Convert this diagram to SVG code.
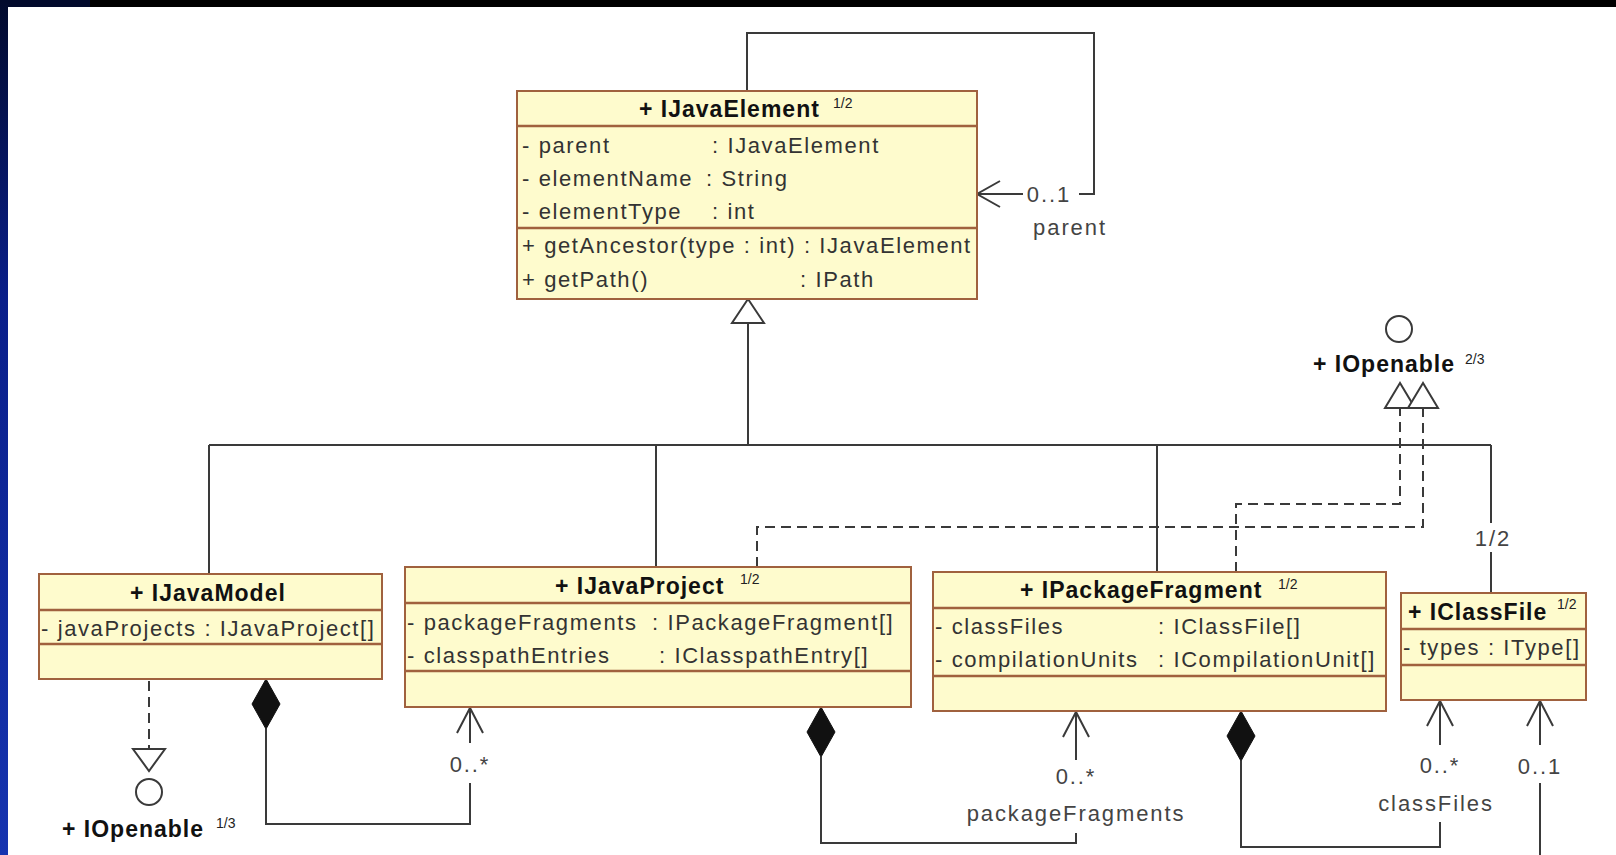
<svg xmlns="http://www.w3.org/2000/svg" width="1616" height="855" viewBox="0 0 1616 855">
  <defs>
    <linearGradient id="edge" x1="0" y1="0" x2="0" y2="1">
      <stop offset="0" stop-color="#020a2c"/>
      <stop offset="0.35" stop-color="#0a1f8a"/>
      <stop offset="1" stop-color="#1634b0"/>
    </linearGradient>
    <style>
      .box { fill: #fefbcd; stroke: #a0613e; stroke-width: 2; }
      .sep { stroke: #a0613e; stroke-width: 2.5; }
      .title { font-family: "Liberation Sans", Arial, sans-serif; font-size: 23px; font-weight: bold; letter-spacing: 1px; fill: #111; }
      .sup { font-family: "Liberation Sans", Arial, sans-serif; font-size: 14px; fill: #222; }
      .attr { font-family: "Liberation Sans", Arial, sans-serif; font-size: 22px; letter-spacing: 1.6px; fill: #333; }
      .lbl { font-family: "Liberation Sans", Arial, sans-serif; font-size: 22px; letter-spacing: 1.9px; fill: #444; text-anchor: middle; }
      .line { stroke: #3a3a3a; stroke-width: 2; fill: none; }
      .dash { stroke-dasharray: 10 6; }
      .hollow { fill: #fff; stroke: #3a3a3a; stroke-width: 2; }
      .solid { fill: #111; stroke: #111; stroke-width: 1; }
      .iface { fill: #fff; stroke: #3a3a3a; stroke-width: 2; }
    </style>
  </defs>

  <!-- page frame -->
  <rect x="0" y="0" width="1616" height="855" fill="#ffffff"/>
  <rect x="0" y="0" width="1616" height="7" fill="#000"/>
  <rect x="0" y="0" width="90" height="7" fill="#020a2c"/>
  <rect x="0" y="0" width="8" height="855" fill="url(#edge)"/>

  <!-- connectors -->
  <g id="connectors">
    <!-- parent self association -->
    <polyline class="line" points="747,91 747,33 1094,33 1094,194 1079,194"/>
    <line class="line" x1="977" y1="194" x2="1023" y2="194"/>
    <polyline class="line" points="1000,181 977,194 1000,207"/>
    <text class="lbl" x="1049" y="202">0..1</text>
    <text class="lbl" x="1070" y="235">parent</text>

    <!-- generalization tree -->
    <polygon class="hollow" points="748,299 732,323 764,323"/>
    <line class="line" x1="748" y1="323" x2="748" y2="445"/>
    <line class="line" x1="209" y1="445" x2="1491" y2="445"/>
    <line class="line" x1="209" y1="445" x2="209" y2="574"/>
    <line class="line" x1="656" y1="445" x2="656" y2="567"/>
    <line class="line" x1="1157" y1="445" x2="1157" y2="572"/>
    <line class="line" x1="1491" y1="445" x2="1491" y2="523"/>
    <line class="line" x1="1491" y1="552" x2="1491" y2="593"/>
    <text class="lbl" x="1493" y="546">1/2</text>

    <!-- realizations of IOpenable (top right) -->
    <polyline class="line dash" points="757,567 757,527 1423,527 1423,408"/>
    <polyline class="line dash" points="1236,572 1236,504 1400,504 1400,408"/>
    <polygon class="hollow" points="1400,383 1385,408 1415,408"/>
    <polygon class="hollow" points="1423,383 1408,408 1438,408"/>

    <!-- realization of IOpenable (bottom left) -->
    <line class="line dash" x1="149" y1="681" x2="149" y2="749"/>
    <polygon class="hollow" points="133,749 165,749 149,771"/>

    <!-- IJavaModel to IJavaProject -->
    <polygon class="solid" points="266,679 280,704 266,729 252,704"/>
    <polyline class="line" points="266,729 266,824 470,824 470,783"/>
    <line class="line" x1="470" y1="743" x2="470" y2="708"/>
    <polyline class="line" points="457,733 470,708 483,733"/>
    <text class="lbl" x="470" y="772">0..*</text>

    <!-- IJavaProject to IPackageFragment -->
    <polygon class="solid" points="821,707 835,732 821,757 807,732"/>
    <polyline class="line" points="821,757 821,843 1076,843 1076,833"/>
    <line class="line" x1="1076" y1="760" x2="1076" y2="712"/>
    <polyline class="line" points="1063,737 1076,712 1089,737"/>
    <text class="lbl" x="1076" y="784">0..*</text>
    <text class="lbl" x="1076" y="821">packageFragments</text>

    <!-- IPackageFragment to IClassFile -->
    <polygon class="solid" points="1241,711 1255,736 1241,761 1227,736"/>
    <polyline class="line" points="1241,761 1241,847 1440,847 1440,822"/>
    <line class="line" x1="1440" y1="745" x2="1440" y2="701"/>
    <polyline class="line" points="1427,726 1440,701 1453,726"/>
    <text class="lbl" x="1440" y="773">0..*</text>
    <text class="lbl" x="1436" y="811">classFiles</text>

    <!-- IClassFile 0..1 association -->
    <line class="line" x1="1540" y1="745" x2="1540" y2="701"/>
    <polyline class="line" points="1527,726 1540,701 1553,726"/>
    <line class="line" x1="1540" y1="783" x2="1540" y2="855"/>
    <text class="lbl" x="1540" y="774">0..1</text>
  </g>

  <!-- IJavaElement -->
  <g id="IJavaElement">
    <rect class="box" x="517" y="91" width="460" height="208"/>
    <line class="sep" x1="517" y1="126" x2="977" y2="126"/>
    <line class="sep" x1="517" y1="228" x2="977" y2="228"/>
    <text class="title" x="639" y="117">+ IJavaElement</text>
    <text class="sup" x="833" y="108">1/2</text>
    <text class="attr" x="522" y="153">- parent</text>
    <text class="attr" x="712" y="153">: IJavaElement</text>
    <text class="attr" x="522" y="186">- elementName</text>
    <text class="attr" x="706" y="186">: String</text>
    <text class="attr" x="522" y="219">- elementType</text>
    <text class="attr" x="712" y="219">: int</text>
    <text class="attr" x="522" y="253">+ getAncestor(type : int) : IJavaElement</text>
    <text class="attr" x="522" y="287">+ getPath()</text>
    <text class="attr" x="800" y="287">: IPath</text>
  </g>

  <!-- IJavaModel -->
  <g id="IJavaModel">
    <rect class="box" x="39" y="574" width="343" height="105"/>
    <line class="sep" x1="39" y1="610" x2="382" y2="610"/>
    <line class="sep" x1="39" y1="644" x2="382" y2="644"/>
    <text class="title" x="130" y="601">+ IJavaModel</text>
    <text class="attr" x="41" y="636">- javaProjects : IJavaProject[]</text>
  </g>

  <!-- IJavaProject -->
  <g id="IJavaProject">
    <rect class="box" x="405" y="567" width="506" height="140"/>
    <line class="sep" x1="405" y1="603" x2="911" y2="603"/>
    <line class="sep" x1="405" y1="671" x2="911" y2="671"/>
    <text class="title" x="555" y="594">+ IJavaProject</text>
    <text class="sup" x="740" y="584">1/2</text>
    <text class="attr" x="407" y="630">- packageFragments</text>
    <text class="attr" x="652" y="630">: IPackageFragment[]</text>
    <text class="attr" x="407" y="663">- classpathEntries</text>
    <text class="attr" x="659" y="663">: IClasspathEntry[]</text>
  </g>

  <!-- IPackageFragment -->
  <g id="IPackageFragment">
    <rect class="box" x="933" y="572" width="453" height="139"/>
    <line class="sep" x1="933" y1="608" x2="1386" y2="608"/>
    <line class="sep" x1="933" y1="676" x2="1386" y2="676"/>
    <text class="title" x="1020" y="598">+ IPackageFragment</text>
    <text class="sup" x="1278" y="589">1/2</text>
    <text class="attr" x="935" y="634">- classFiles</text>
    <text class="attr" x="1158" y="634">: IClassFile[]</text>
    <text class="attr" x="935" y="667">- compilationUnits</text>
    <text class="attr" x="1158" y="667">: ICompilationUnit[]</text>
  </g>

  <!-- IClassFile -->
  <g id="IClassFile">
    <rect class="box" x="1401" y="593" width="185" height="107"/>
    <line class="sep" x1="1401" y1="629" x2="1586" y2="629"/>
    <line class="sep" x1="1401" y1="665" x2="1586" y2="665"/>
    <text class="title" x="1408" y="620">+ IClassFile</text>
    <text class="sup" x="1557" y="609">1/2</text>
    <text class="attr" x="1403" y="655">- types : IType[]</text>
  </g>

  <!-- IOpenable interface, top right -->
  <g id="IOpenable-top">
    <circle class="iface" cx="1399" cy="329" r="13"/>
    <text class="title" x="1313" y="372">+ IOpenable</text>
    <text class="sup" x="1465" y="364">2/3</text>
  </g>

  <!-- IOpenable interface, bottom left -->
  <g id="IOpenable-bottom">
    <circle class="iface" cx="149" cy="792" r="13"/>
    <text class="title" x="62" y="837">+ IOpenable</text>
    <text class="sup" x="216" y="828">1/3</text>
  </g>
</svg>
